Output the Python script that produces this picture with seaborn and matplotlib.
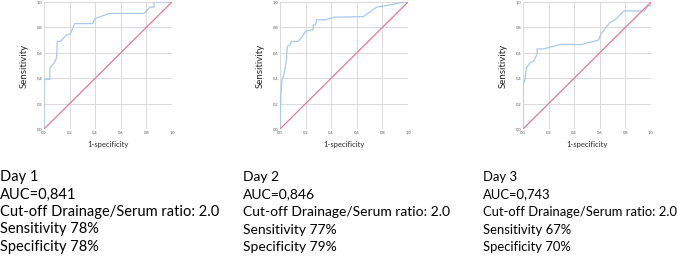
import numpy as np
import pandas as pd
import seaborn as sns
import matplotlib.pyplot as plt

# ROC curves (1-specificity, sensitivity)
day1_fpr = [0.0, 0.0, 0.046, 0.046, 0.085, 0.098, 0.103, 0.129, 0.175, 0.206, 0.24, 0.38, 0.40, 0.51, 0.78, 0.83, 0.86, 0.86, 1.0]
day1_tpr = [0.0, 0.39, 0.39, 0.48, 0.53, 0.56, 0.69, 0.69, 0.74, 0.75, 0.83, 0.83, 0.87, 0.91, 0.91, 0.96, 0.96, 1.0, 1.0]

day2_fpr = [0.0, 0.005, 0.015, 0.026, 0.04, 0.05, 0.057, 0.077, 0.09, 0.144, 0.175, 0.2, 0.247, 0.258, 0.26, 0.278, 0.286, 0.356, 0.42, 0.65, 0.755, 0.82, 0.975, 1.0]
day2_tpr = [0.0, 0.23, 0.39, 0.41, 0.48, 0.54, 0.65, 0.66, 0.69, 0.69, 0.73, 0.77, 0.78, 0.78, 0.82, 0.82, 0.86, 0.86, 0.88, 0.885, 0.96, 0.97, 1.0, 1.0]

day3_fpr = [0.0, 0.0, 0.015, 0.026, 0.04, 0.06, 0.085, 0.11, 0.11, 0.16, 0.29, 0.46, 0.51, 0.59, 0.61, 0.68, 0.72, 0.79, 0.95, 0.98, 1.0, 1.0]
day3_tpr = [0.0, 0.34, 0.39, 0.48, 0.50, 0.525, 0.535, 0.59, 0.63, 0.63, 0.665, 0.665, 0.68, 0.70, 0.75, 0.84, 0.86, 0.93, 0.93, 0.97, 0.97, 1.0]

days = ["Day 1", "Day 2", "Day 3"]
auc = ["0,841", "0,846", "0,743"]
cutoff = ["2.0", "2.0", "2.0"]
sens = ["78%", "77%", "67%"]
spec = ["78%", "79%", "70%"]

sns.set_style("whitegrid")
plt.rcParams['font.family'] = ['Lato', 'DejaVu Sans']

W, H = 677, 258
fig = plt.figure(figsize=(W / 100, H / 100), dpi=100)

curves = [(day1_fpr, day1_tpr), (day2_fpr, day2_tpr), (day3_fpr, day3_tpr)]
ax_left = [44, 280, 523]
text_left = [0, 243, 483]
text_size = [10.5, 10.0, 9.4]

for i, (fpr, tpr) in enumerate(curves):
    ax = fig.add_axes([ax_left[i] / W, (H - 129) / H, 128 / W, 127 / H])
    df = pd.DataFrame({"fpr": fpr, "tpr": tpr})
    sns.lineplot(data=df, x="fpr", y="tpr", sort=False, estimator=None,
                 color="#a9c8ec", lw=0.9, ax=ax)
    sns.lineplot(x=[0, 1], y=[0, 1], color="#e07a95", lw=0.9, ax=ax)
    ax.set_xlim(0, 1)
    ax.set_ylim(0, 1)
    ax.set_xticks(np.arange(0, 1.01, 0.2))
    ax.set_yticks(np.arange(0, 1.01, 0.2))
    ax.set_xticklabels([f"{t:.1f}".replace(".", ",") for t in ax.get_xticks()])
    ax.set_yticklabels([f"{t:.1f}".replace(".", ",") for t in ax.get_yticks()])
    ax.tick_params(labelsize=3, colors="#555555", pad=1, length=0)
    ax.grid(color="#d9d9d9", lw=0.7)
    for s in ax.spines.values():
        s.set_visible(False)
    ax.set_xlabel("1-specificity", fontsize=5.5, labelpad=5)
    ax.set_ylabel("Sensitivity", fontsize=7, labelpad=6)

    lines = [days[i], "AUC=" + auc[i],
             "Cut-off Drainage/Serum ratio: " + cutoff[i],
             "Sensitivity " + sens[i], "Specificity " + spec[i]]
    for j, line in enumerate(lines):
        y = 177 + j * 17.5
        fig.text(text_left[i] / W, 1 - y / H, line, fontsize=text_size[i],
                 ha="left", va="center", color="black")

fig.savefig("out.png", dpi=100)
